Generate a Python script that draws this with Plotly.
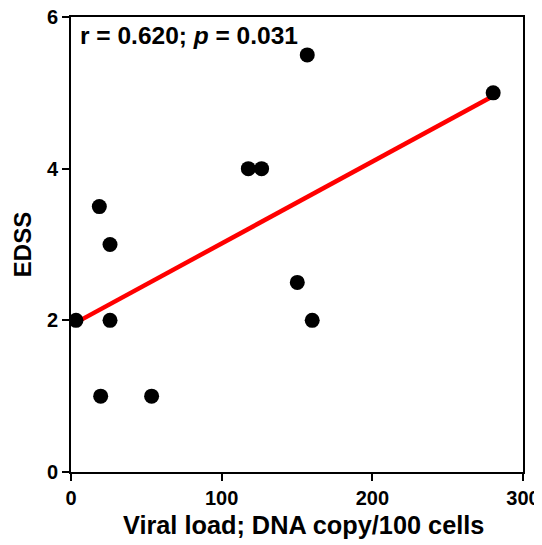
import numpy as np
import plotly.graph_objects as go

viral_load = [3.3, 18.8, 25.9, 25.9, 19.7, 53.5, 117.7, 126.5, 150.2, 160.1, 156.8, 280.2]
edss = [2.0, 3.5, 3.0, 2.0, 1.0, 1.0, 4.0, 4.0, 2.5, 2.0, 5.5, 5.0]
x_ticks = [0, 100, 200, 300]
y_ticks = [0, 2, 4, 6]

slope, intercept = np.polyfit(viral_load, edss, 1)
fit_x = [min(viral_load), max(viral_load)]
fit_y = [intercept + slope * v for v in fit_x]

font = "Liberation Sans, Arial, sans-serif"

fig = go.Figure()
fig.add_trace(go.Scatter(x=fit_x, y=fit_y, mode="lines",
                         line=dict(color="#ff0000", width=4.5), showlegend=False))
fig.add_trace(go.Scatter(x=viral_load, y=edss, mode="markers",
                         marker=dict(color="black", size=15), showlegend=False))

fig.add_annotation(x=0, y=1, xref="paper", yref="paper", xanchor="left", yanchor="top",
                   xshift=7, yshift=-3, showarrow=False,
                   text="<b>r = 0.620; <i>p</i> = 0.031</b>",
                   font=dict(family=font, size=24.5, color="black"))

# x-axis title (as annotation so it can sit slightly right of centre, as in the reference)
fig.add_annotation(x=0.5, y=0, xref="paper", yref="paper", xanchor="center", yanchor="top",
                   xshift=6, yshift=-37, showarrow=False,
                   text="<b>Viral load; DNA copy/100 cells</b>",
                   font=dict(family=font, size=25.3, color="black"))

axis_common = dict(showline=True, linecolor="black", linewidth=2, mirror=True,
                   ticks="outside", ticklen=7, tickwidth=2, tickcolor="black",
                   showgrid=False, zeroline=False, automargin=False,
                   ticklabeloverflow="allow",
                   tickfont=dict(family=font, size=20, color="black", weight="bold"))

fig.update_xaxes(range=[0, 300], tickvals=x_ticks, **axis_common)
fig.update_yaxes(range=[0, 6], tickvals=y_ticks,
                 title=dict(text="<b>EDSS</b>",
                            font=dict(family=font, size=24, color="black"), standoff=8),
                 **axis_common)

fig.update_layout(width=542, height=545, plot_bgcolor="white", paper_bgcolor="white",
                  margin=dict(l=63, r=27, t=9, b=81))

fig.write_html("out.html")
